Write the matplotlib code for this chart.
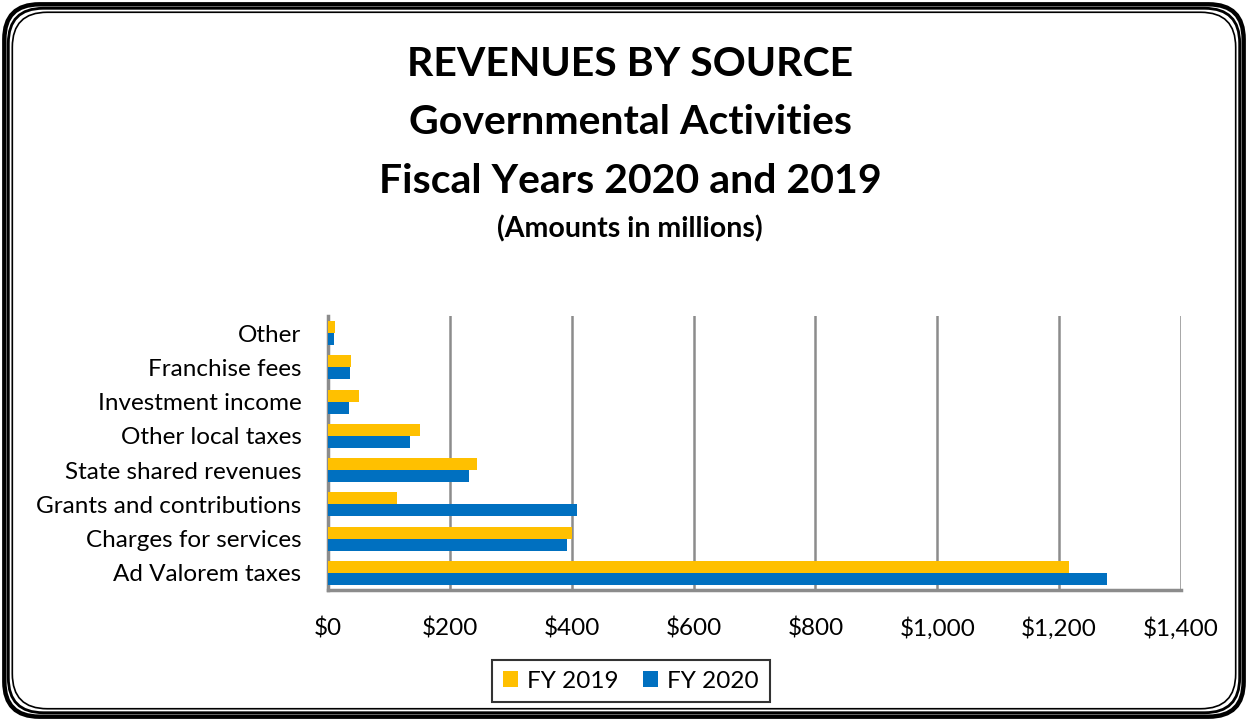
import numpy as np
import matplotlib.pyplot as plt
from matplotlib.patches import FancyBboxPatch
from matplotlib.ticker import FuncFormatter

plt.rcParams["font.family"] = ["Lato", "DejaVu Sans"]

# ── data (millions) ─────────────────────────────
categories = [
    "Ad Valorem taxes",
    "Charges for services",
    "Grants and contributions",
    "State shared revenues",
    "Other local taxes",
    "Investment income",
    "Franchise fees",
    "Other",
]
fy2019 = [1216, 400, 113, 244, 151, 51, 37, 12]
fy2020 = [1279, 393, 408, 231, 135, 34, 36, 10]
series_labels = ["FY 2019", "FY 2020"]
colors = ["#FFC000", "#0070C0"]

fig = plt.figure(figsize=(12.48, 7.21), dpi=100)

# triple rounded border
for inset, lw in [(0.006, 3.2), (0.0115, 2.0), (0.017, 1.2)]:
    fig.patches.append(
        FancyBboxPatch(
            (inset * 0.58, inset), 1 - inset * 1.16, 1 - 2 * inset,
            boxstyle="round,pad=0,rounding_size=0.028",
            transform=fig.transFigure, fill=False, ec="black", lw=lw,
            mutation_aspect=12.48 / 7.21,
        )
    )

fig.text(0.505, 0.911, "REVENUES BY SOURCE", ha="center", va="center",
         fontsize=29.5, fontweight="bold")
fig.text(0.505, 0.830, "Governmental Activities", ha="center", va="center",
         fontsize=29.5, fontweight="bold")
fig.text(0.505, 0.748, "Fiscal Years 2020 and 2019", ha="center", va="center",
         fontsize=29.5, fontweight="bold")
fig.text(0.505, 0.682, "(Amounts in millions)", ha="center", va="center",
         fontsize=20.5, fontweight="bold")

ax = fig.add_axes([328 / 1248, 1 - 590 / 721, (1181 - 328) / 1248, (590 - 316) / 721])
y = np.arange(len(categories))
h = 0.35
ax.barh(y + h / 2, fy2019, h, color=colors[0], label=series_labels[0], zorder=3)
ax.barh(y - h / 2, fy2020, h, color=colors[1], label=series_labels[1], zorder=3)

ax.set_xlim(0, 1400)
ax.set_ylim(-0.5, len(categories) - 0.5)
ax.set_xticks(np.arange(0, 1401, 200))
ax.xaxis.set_major_formatter(FuncFormatter(lambda v, p: f"${v:,.0f}"))
ax.set_yticks(y)
ax.set_yticklabels(categories)
ax.tick_params(axis="both", length=0, labelsize=17.5)
ax.tick_params(axis="x", pad=33)
ax.tick_params(axis="y", pad=19)
plt.setp(ax.get_xticklabels(), va="baseline")
ax.grid(axis="x", color="#8c8c8c", lw=1.8, zorder=0)
for s in ["top", "right"]:
    ax.spines[s].set_visible(False)
for s in ["left", "bottom"]:
    ax.spines[s].set_color("#8c8c8c")
    ax.spines[s].set_linewidth(2.5)

leg = fig.legend(loc="center", bbox_to_anchor=(631 / 1248, 1 - 681 / 721), ncol=2,
                 fontsize=17.5, frameon=True, fancybox=False, edgecolor="black",
                 handlelength=0.6, handleheight=0.6, handletextpad=0.4,
                 columnspacing=1.0, borderpad=0.45)
leg.get_frame().set_linewidth(1.5)

fig.savefig("out.png", dpi=100)
